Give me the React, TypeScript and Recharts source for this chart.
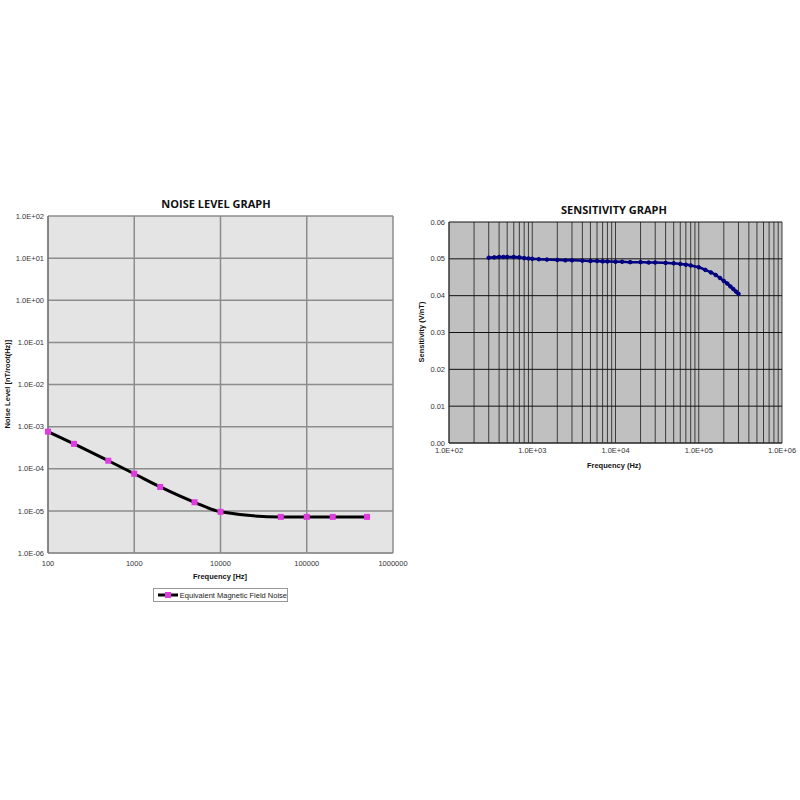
import React from 'react';
import { LineChart, Line, XAxis, YAxis, CartesianGrid } from 'recharts';

// noise level graph
const noiseFreq = [100, 200, 500, 1000, 2000, 5000, 10000, 50000, 100000, 200000, 500000];
const noiseLevel = [7.6e-4, 3.9e-4, 1.55e-4, 7.6e-5, 3.7e-5, 1.6e-5, 9.5e-6, 7.2e-6, 7.2e-6, 7.2e-6, 7.2e-6];
const noiseXTicks = [100, 1000, 10000, 100000, 1000000];
const noiseYTicks = [1e-6, 1e-5, 1e-4, 1e-3, 1e-2, 1e-1, 1, 10, 100];
const noiseYLabels = ['1.0E-06', '1.0E-05', '1.0E-04', '1.0E-03', '1.0E-02', '1.0E-01', '1.0E+00', '1.0E+01', '1.0E+02'];

// sensitivity graph
const sensFreq = [
  300, 350, 400, 450, 500, 600, 700, 800, 900, 1000, 1200, 1500, 2000, 2500, 3000, 4000, 5000, 6000, 7000,
  8000, 10000, 12000, 15000, 20000, 25000, 30000, 40000, 50000, 60000, 70000, 80000, 100000, 120000,
  140000, 160000, 180000, 200000, 220000, 240000, 260000, 280000, 300000,
];
const sensValue = [
  0.0503, 0.0504, 0.0505, 0.0505, 0.0505, 0.0505, 0.0504, 0.0502, 0.0501, 0.05, 0.0499, 0.0498, 0.0497,
  0.0496, 0.0496, 0.0495, 0.0494, 0.0494, 0.0493, 0.0493, 0.0492, 0.0492, 0.0491, 0.0491, 0.049, 0.049,
  0.0489, 0.0488, 0.0486, 0.0484, 0.0482, 0.0477, 0.047, 0.0463, 0.0456, 0.0448, 0.044, 0.0433, 0.0425,
  0.0418, 0.0411, 0.0405,
];
const sensXTicks = [
  100, 200, 300, 400, 500, 600, 700, 800, 900,
  1000, 2000, 3000, 4000, 5000, 6000, 7000, 8000, 9000,
  10000, 20000, 30000, 40000, 50000, 60000, 70000, 80000, 90000,
  100000, 200000, 300000, 400000, 500000, 600000, 700000, 800000, 900000,
  1000000,
];
const sensXLabels: Record<number, string> = {
  100: '1.0E+02', 1000: '1.0E+03', 10000: '1.0E+04', 100000: '1.0E+05', 1000000: '1.0E+06',
};
const sensYTicks = [0, 0.01, 0.02, 0.03, 0.04, 0.05, 0.06];

const noiseData = noiseFreq.map((f, i) => ({ f, v: noiseLevel[i] }));
const sensData = sensFreq.map((f, i) => ({ f, v: sensValue[i] }));

const tickFont = { fontFamily: '"Liberation Sans", Arial, sans-serif', fontSize: 7.5, fill: '#333' };
const boldSmall: React.CSSProperties = {
  position: 'absolute',
  fontFamily: '"Liberation Sans", Arial, sans-serif',
  fontSize: 7.5,
  fontWeight: 'bold',
  color: '#111',
  whiteSpace: 'nowrap',
  transform: 'translate(-50%, -50%)',
};
const titleStyle: React.CSSProperties = {
  position: 'absolute',
  fontFamily: '"Open Sans", sans-serif',
  fontSize: 11,
  fontWeight: 'bold',
  color: '#111',
  whiteSpace: 'nowrap',
  transform: 'translate(-50%, -50%)',
};

const SquareDot = (props: any) => {
  const { cx, cy, index } = props;
  return <rect key={`sq${index}`} x={cx - 3} y={cy - 3} width={6} height={6} fill="#e03ae0" />;
};

export default function App() {
  return (
    <div style={{ position: 'absolute', left: 0, top: 0, width: 800, height: 800, background: '#fff' }}>
      <div style={{ ...titleStyle, left: 216, top: 203 }}>NOISE LEVEL GRAPH</div>
      <div style={{ ...titleStyle, left: 614, top: 209 }}>SENSITIVITY GRAPH</div>

      <div style={{ position: 'absolute', left: 0, top: 190 }}>
        <LineChart width={420} height={420} data={noiseData} margin={{ top: 26, right: 27, bottom: 37, left: 4 }}>
          <CartesianGrid stroke="#8c8c8c" strokeWidth={1.5} fill="#e4e4e4" />
          <XAxis
            dataKey="f"
            type="number"
            scale="log"
            domain={[100, 1000000]}
            ticks={noiseXTicks}
            interval={0}
            height={20}
            tickLine={false}
            axisLine={{ stroke: '#888' }}
            tick={tickFont}
          />
          <YAxis
            type="number"
            scale="log"
            domain={[1e-6, 100]}
            ticks={noiseYTicks}
            interval={0}
            width={44}
            tickLine={false}
            tickSize={3}
            tickMargin={1}
            axisLine={{ stroke: '#666' }}
            tick={tickFont}
            tickFormatter={(v: number) => noiseYLabels[noiseYTicks.findIndex((t) => Math.abs(Math.log10(t) - Math.log10(v)) < 0.01)] ?? ''}
            allowDataOverflow
          />
          <Line
            dataKey="v"
            type="monotone"
            stroke="#000"
            strokeWidth={3}
            dot={SquareDot}
            activeDot={false}
            isAnimationActive={false}
          />
        </LineChart>
      </div>
      <div style={{ ...boldSmall, left: 7, top: 384, transform: 'translate(-50%, -50%) rotate(-90deg)' }}>
        Noise Level [nT/root(Hz)]
      </div>
      <div style={{ ...boldSmall, left: 220, top: 576 }}>Frequency [Hz]</div>
      <div
        style={{
          position: 'absolute',
          left: 153,
          top: 588,
          width: 133,
          height: 12,
          border: '1px solid #999',
          display: 'flex',
          alignItems: 'center',
          fontFamily: '"Liberation Sans", Arial, sans-serif',
          fontSize: 7.5,
          color: '#222',
          whiteSpace: 'nowrap',
        }}
      >
        <svg width={24} height={12} style={{ marginLeft: 2 }}>
          <line x1={2} y1={6} x2={22} y2={6} stroke="#000" strokeWidth={3} />
          <rect x={9} y={3} width={6} height={6} fill="#e03ae0" />
        </svg>
        <span>Equivalent Magnetic Field Noise</span>
      </div>

      <div style={{ position: 'absolute', left: 400, top: 190 }}>
        <LineChart width={400} height={300} data={sensData} margin={{ top: 32, right: 18, bottom: 27, left: 4 }}>
          <CartesianGrid horizontal={false} stroke="#3c3c3c" fill="#c0c0c0" />
          <CartesianGrid vertical={false} stroke="#111" />
          <XAxis
            dataKey="f"
            type="number"
            scale="log"
            domain={[100, 1000000]}
            ticks={sensXTicks}
            interval={0}
            height={20}
            tickLine={false}
            tickSize={3}
            axisLine={{ stroke: '#333' }}
            tick={tickFont}
            tickFormatter={(v: number) => sensXLabels[v] ?? ''}
          />
          <YAxis
            type="number"
            domain={[0, 0.06]}
            ticks={sensYTicks}
            interval={0}
            width={45}
            tickLine={false}
            tickSize={3}
            tickMargin={1}
            axisLine={{ stroke: '#333' }}
            tick={tickFont}
            tickFormatter={(v: number) => v.toFixed(2)}
          />
          <Line
            dataKey="v"
            type="monotone"
            stroke="#000080"
            strokeWidth={2.5}
            dot={{ r: 1.8, fill: '#000080', stroke: '#000080', strokeWidth: 1 }}
            activeDot={false}
            isAnimationActive={false}
          />
        </LineChart>
      </div>
      <div style={{ ...boldSmall, left: 421, top: 332, transform: 'translate(-50%, -50%) rotate(-90deg)' }}>
        Sensitivity (V/nT)
      </div>
      <div style={{ ...boldSmall, left: 614, top: 465 }}>Frequency (Hz)</div>
    </div>
  );
}
